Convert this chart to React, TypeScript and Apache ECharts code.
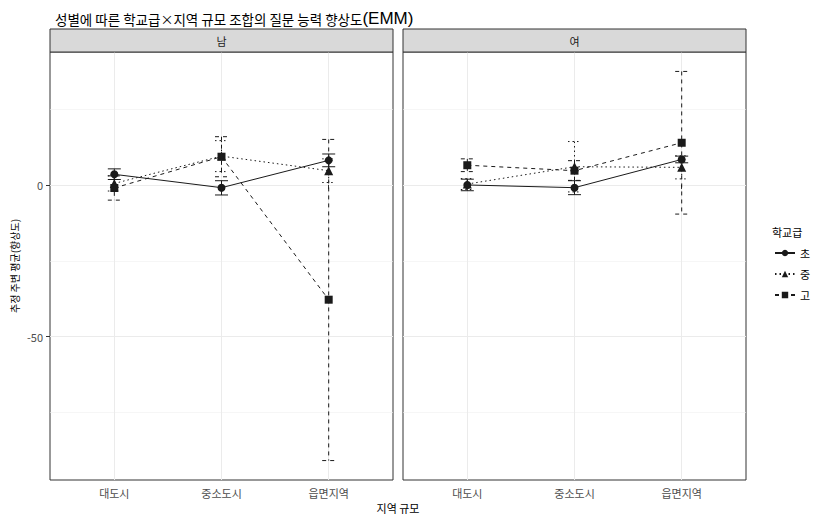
import React, { useEffect, useRef } from 'react';
import * as echarts from 'echarts';

const regions = ['대도시', '중소도시', '읍면지역'];
const levels = ['초', '중', '고'];
const panels = ['남', '여'];

// 남 (male)
const maleChoMean = [3.5, -0.9, 8.1];
const maleChoLo = [1.8, -3.3, 6.0];
const maleChoHi = [5.3, 1.4, 10.2];
const maleJungMean = [0.5, 9.5, 4.7];
const maleJungLo = [-2.0, 4.4, 0.8];
const maleJungHi = [3.0, 14.6, 8.6];
const maleGoMean = [-1.0, 9.3, -37.8];
const maleGoLo = [-5.0, 2.7, -90.8];
const maleGoHi = [3.0, 15.9, 15.0];

// 여 (female)
const femChoMean = [0.0, -0.9, 8.4];
const femChoLo = [-1.9, -3.2, 7.3];
const femChoHi = [1.9, 1.4, 9.5];
const femJungMean = [0.3, 6.0, 5.8];
const femJungLo = [-1.5, -2.3, 2.0];
const femJungHi = [2.1, 14.3, 9.6];
const femGoMean = [6.5, 4.7, 13.9];
const femGoLo = [4.4, 1.5, -9.6];
const femGoHi = [8.6, 8.0, 37.4];

const yMajorTicks = [0, -50];
const yMinorGrid = [25, -25, -75];

const FONT = '"Noto Sans CJK KR", "Noto Sans", sans-serif';

export default function App() {
  const ref = useRef<HTMLDivElement>(null);
  useEffect(() => {
    document.body.style.margin = '0';
    if (!ref.current) return;
    const chart = echarts.init(ref.current, null, { renderer: 'svg' });

    const panelData = [
      [
        [maleChoMean, maleChoLo, maleChoHi],
        [maleJungMean, maleJungLo, maleJungHi],
        [maleGoMean, maleGoLo, maleGoHi],
      ],
      [
        [femChoMean, femChoLo, femChoHi],
        [femJungMean, femJungLo, femJungHi],
        [femGoMean, femGoLo, femGoHi],
      ],
    ];

    const symbols = ['circle', 'triangle', 'rect'];
    const symbolSizes = [8, 9, 8];
    const lineTypes: any[] = ['solid', [1.5, 3], [4, 4]];
    const dashes: any[] = [null, [1.5, 3], [4, 4]];

    const yMin = -97.2;
    const yMax = 43.8;

    const grids = [
      { left: 50, top: 52, width: 343, height: 428 },
      { left: 403, top: 52, width: 343, height: 428 },
    ].map((g) => ({ ...g, show: true, borderColor: '#333333', borderWidth: 1, backgroundColor: '#fff' }));

    const xAxes = panels.map((_, i) => ({
      type: 'value',
      gridIndex: i,
      min: 0.4,
      max: 3.6,
      axisLine: { show: false },
      axisTick: { show: true, length: 4, customValues: [1, 2, 3], lineStyle: { color: '#333333' } },
      axisLabel: {
        customValues: [1, 2, 3],
        formatter: (v: number) => regions[Math.round(v) - 1] ?? '',
        color: '#4D4D4D',
        fontSize: 11,
        fontFamily: FONT,
        margin: 7,
      },
      splitLine: { show: true, lineStyle: { color: '#EBEBEB', width: 1 } },
    }));

    const yAxes: any[] = [];
    panels.forEach((_, i) => {
      yAxes.push({
        type: 'value',
        gridIndex: i,
        min: yMin,
        max: yMax,
        position: 'left',
        axisLine: { show: false },
        axisTick: { show: i === 0, length: 4, customValues: yMajorTicks, lineStyle: { color: '#333333' } },
        axisLabel: {
          show: i === 0,
          customValues: yMajorTicks,
          color: '#4D4D4D',
          fontSize: 11,
          fontFamily: FONT,
          margin: 7,
        },
        splitLine: { show: true, lineStyle: { color: '#EBEBEB', width: 1 } },
        name: i === 0 ? '추정 주변 평균(향상도)' : '',
        nameLocation: 'middle',
        nameGap: 31,
        nameTextStyle: { fontSize: 10, fontFamily: FONT, color: '#000' },
      });
      yAxes.push({
        type: 'value',
        gridIndex: i,
        min: yMin,
        max: yMax,
        position: 'left',
        axisLine: { show: false },
        axisTick: { show: false, customValues: yMinorGrid },
        axisLabel: { show: false },
        splitLine: { show: true, lineStyle: { color: '#F0F0F0', width: 0.6 } },
      });
    });

    const series: any[] = [];
    panelData.forEach((lvls, p) => {
      lvls.forEach(([mean], l) => {
        series.push({
          type: 'line',
          name: levels[l],
          xAxisIndex: p,
          yAxisIndex: p * 2,
          data: regions.map((_, i) => [i + 1, mean[i]]),
          symbol: symbols[l],
          symbolSize: symbolSizes[l],
          itemStyle: { color: '#1A1A1A' },
          lineStyle: { color: '#1A1A1A', width: 1, type: lineTypes[l] },
          z: 3,
        });
      });
    });
    panelData.forEach((lvls, p) => {
      lvls.forEach(([mean, lo, hi], l) => {
        series.push({
          type: 'custom',
          name: levels[l],
          xAxisIndex: p,
          yAxisIndex: p * 2,
          data: regions.map((_, i) => [i + 1, mean[i], lo[i], hi[i]]),
          encode: { x: 0, y: [1, 2, 3] },
          z: 2,
          renderItem: (params: any, api: any) => {
            const x = api.value(0);
            const top = api.coord([x, api.value(3)]);
            const bot = api.coord([x, api.value(2)]);
            const w = 6.5;
            const style: any = { stroke: '#1A1A1A', lineWidth: 1, fill: null };
            if (dashes[l]) style.lineDash = dashes[l];
            return {
              type: 'group',
              children: [
                { type: 'line', shape: { x1: top[0], y1: top[1], x2: bot[0], y2: bot[1] }, style },
                { type: 'line', shape: { x1: top[0] - w, y1: top[1], x2: top[0] + w, y2: top[1] }, style },
                { type: 'line', shape: { x1: bot[0] - w, y1: bot[1], x2: bot[0] + w, y2: bot[1] }, style },
              ],
            };
          },
        });
      });
    });

    const stripW = 343;
    const graphic: any[] = [];
    [50, 403].forEach((x, i) => {
      graphic.push({
        type: 'rect',
        shape: { x, y: 29, width: stripW, height: 23 },
        style: { fill: '#D9D9D9', stroke: '#333333', lineWidth: 1 },
        z: 10,
      });
      graphic.push({
        type: 'text',
        x: x + stripW / 2,
        y: 40.5,
        style: {
          text: panels[i],
          fontSize: 11,
          fontFamily: FONT,
          fill: '#1A1A1A',
          align: 'center',
          verticalAlign: 'middle',
        },
        z: 11,
      });
    });
    graphic.push({
      type: 'text',
      x: 398,
      y: 508,
      style: {
        text: '지역 규모',
        fontSize: 11,
        fontFamily: FONT,
        fill: '#000',
        align: 'center',
        verticalAlign: 'middle',
      },
    });
    graphic.push({
      type: 'text',
      x: 772,
      y: 232,
      style: {
        text: '학교급',
        fontSize: 11,
        fontFamily: FONT,
        fill: '#000',
        align: 'left',
        verticalAlign: 'middle',
      },
    });

    chart.setOption({
      animation: false,
      backgroundColor: '#fff',
      title: {
        left: 50,
        top: 5,
        text: '{a|성별에 따른 학교급}{b|×}{a|지역 규모 조합의 질문 능력 향상도}{c|(EMM)}',
        textStyle: {
          fontWeight: 'normal',
          rich: {
            a: { fontSize: 13.5, fontFamily: FONT, color: '#000', fontWeight: 'normal' },
            b: { fontSize: 13, fontFamily: FONT, color: '#000', fontWeight: 'normal' },
            c: { fontSize: 17, fontFamily: 'Liberation Sans, Arial, sans-serif', color: '#000', fontWeight: 'normal' },
          },
        },
      },
      legend: {
        orient: 'vertical',
        left: 774,
        top: 246,
        padding: 0,
        itemWidth: 20,
        itemHeight: 8,
        itemGap: 7,
        selectedMode: false,
        data: levels,
        textStyle: { fontSize: 11, lineHeight: 14, fontFamily: FONT, color: '#000' },
      },
      grid: grids,
      xAxis: xAxes,
      yAxis: yAxes,
      series,
      graphic,
    });
    return () => chart.dispose();
  }, []);
  return <div ref={ref} style={{ width: 813, height: 516 }} />;
}
